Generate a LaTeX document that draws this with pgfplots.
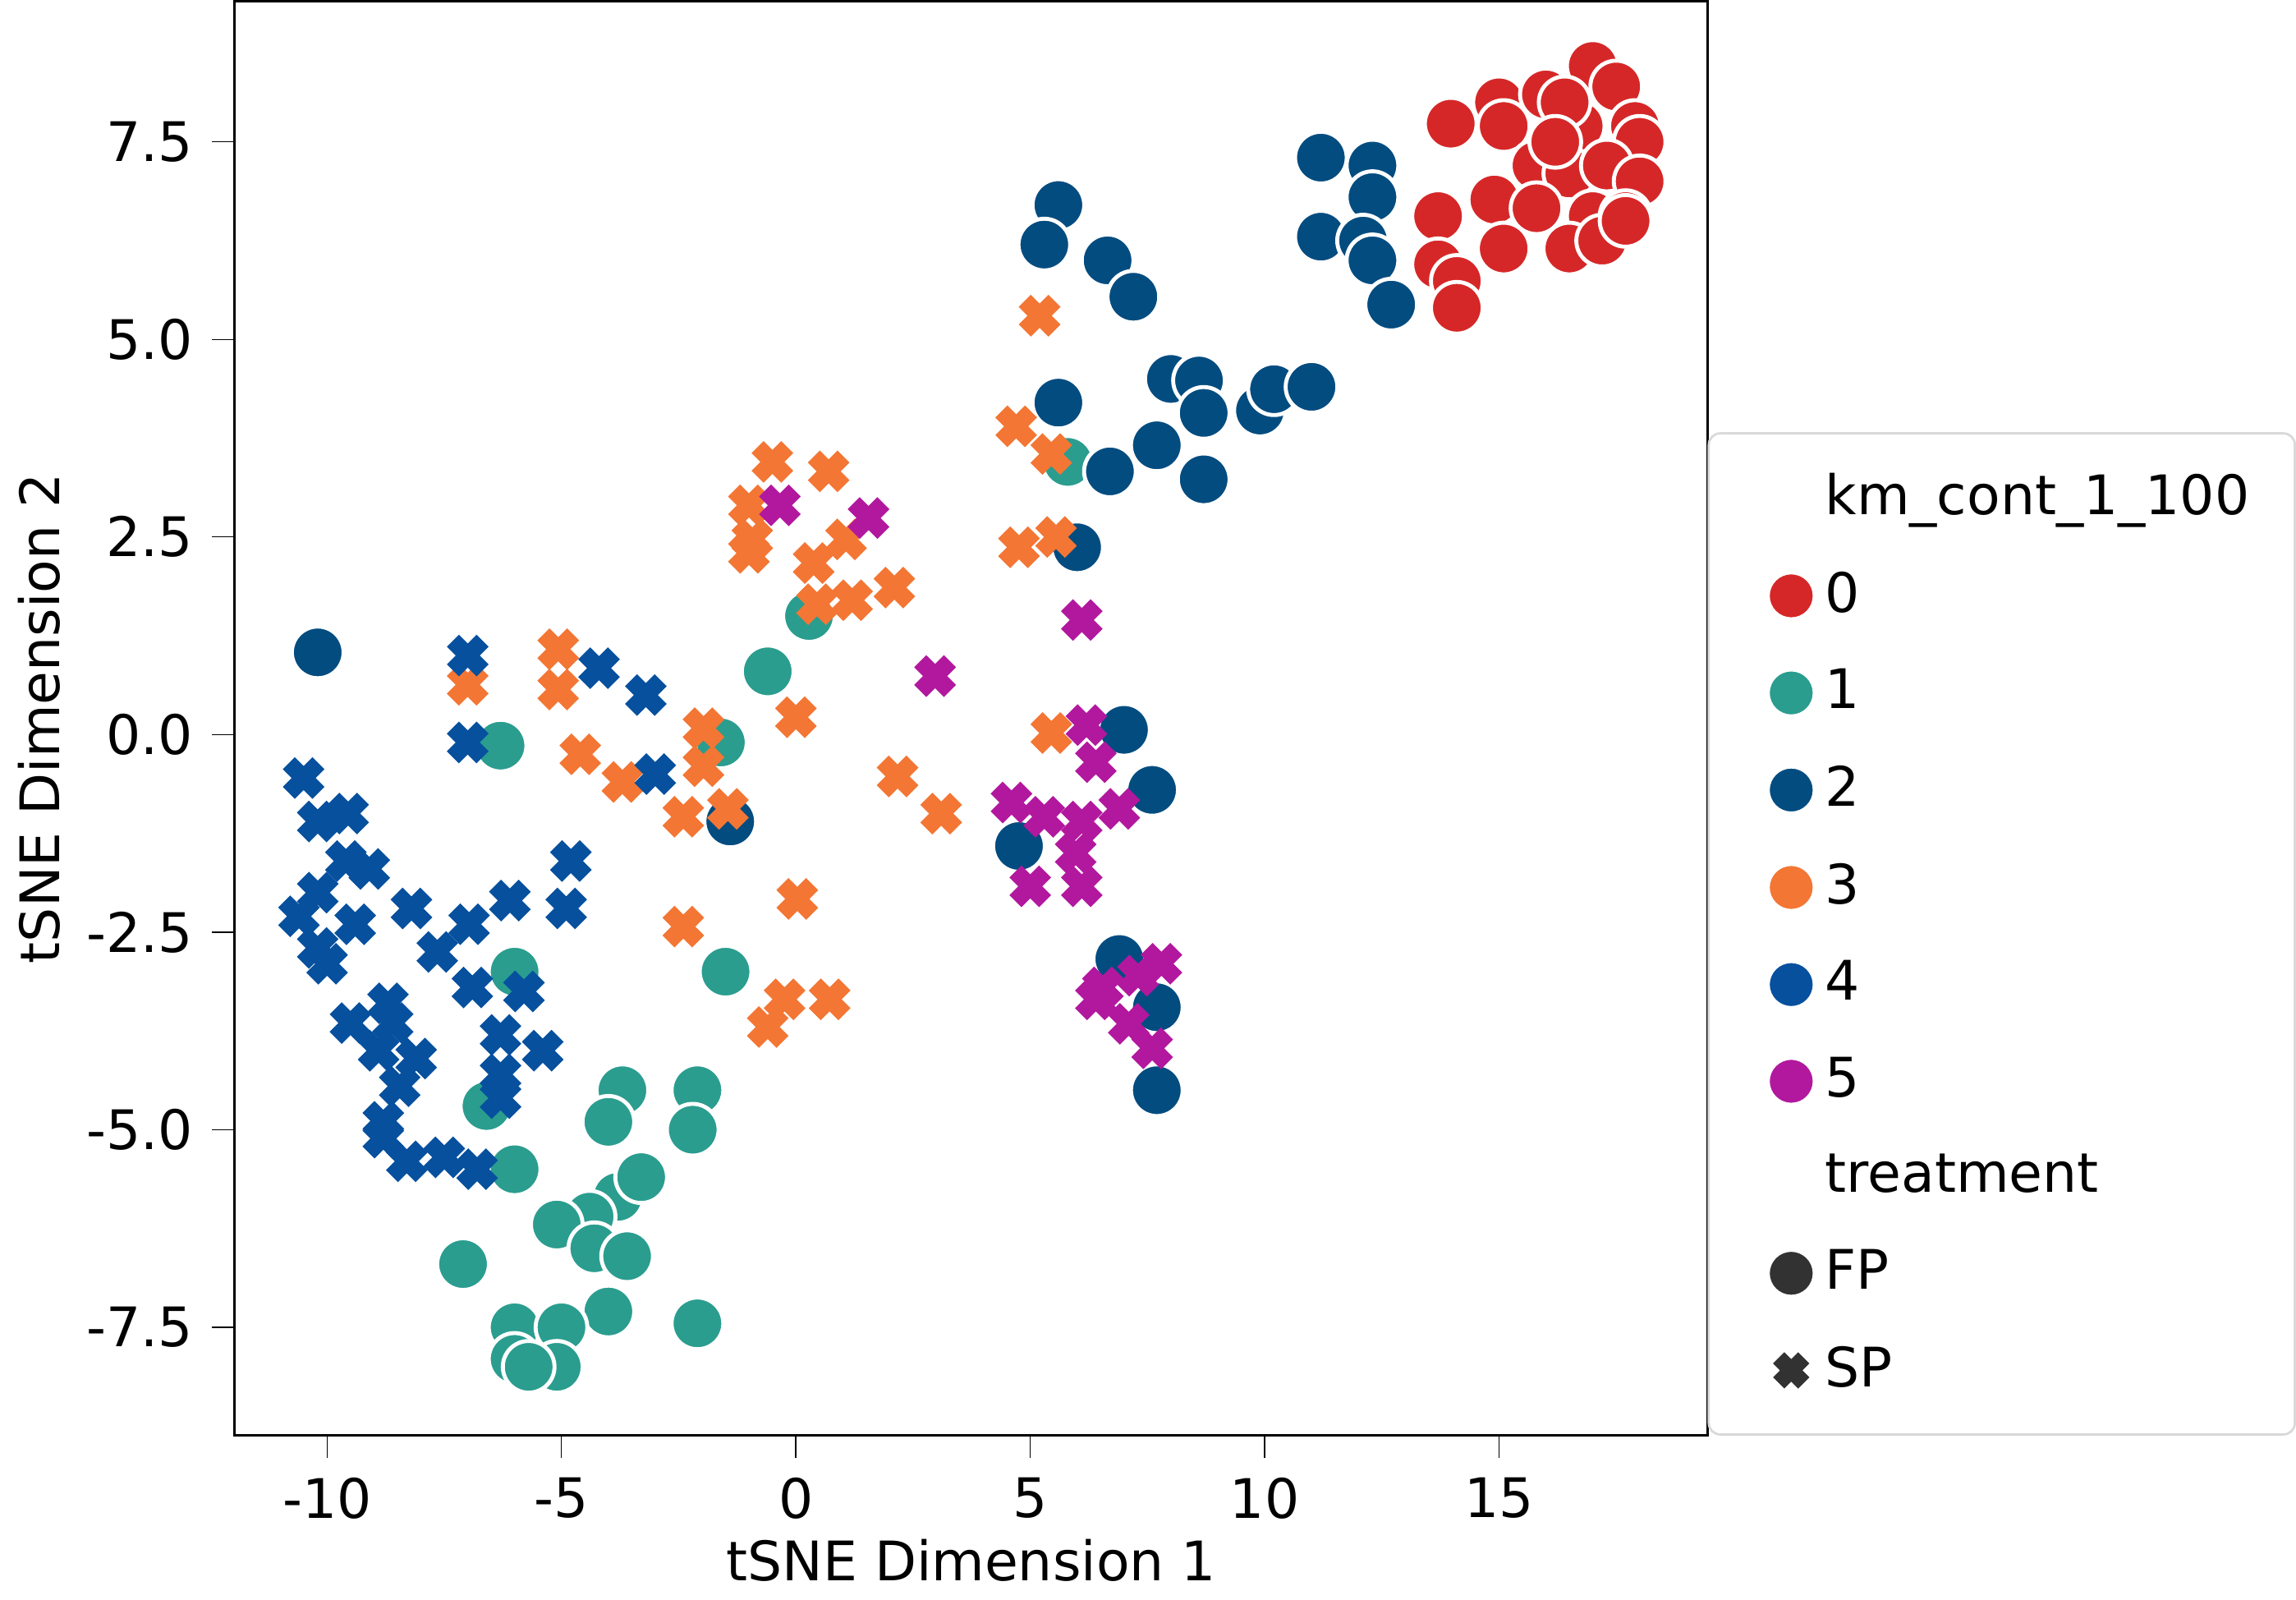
\documentclass[border=0pt]{standalone}
\usepackage{pgfplots}
\pgfplotsset{compat=1.18}
\usepackage{fontspec}
\setmainfont{DejaVu Sans}
\definecolor{c0}{RGB}{214,39,40}
\definecolor{c1}{RGB}{42,157,143}
\definecolor{c2}{RGB}{3,76,128}
\definecolor{c3}{RGB}{243,118,52}
\definecolor{c4}{RGB}{6,80,158}
\definecolor{c5}{RGB}{178,24,158}
\definecolor{cg}{RGB}{50,50,50}
\begin{document}
\fontsize{9.6}{11.5}\selectfont
\begin{tikzpicture}
\begin{axis}[scale only axis, width=9.12cm, height=8.88cm,
 xmin=-11.97, xmax=19.45, ymin=-8.87, ymax=9.28,
 xtick={-10,-5,0,5,10,15}, ytick={-7.5,-5,-2.5,0,2.5,5,7.5},
 yticklabel style={/pgf/number format/fixed,/pgf/number format/fixed zerofill,/pgf/number format/precision=1},
 /pgf/number format/assume math mode=true,
 tick label style={font=\fontsize{9.6}{11.5}\selectfont},
 label style={font=\fontsize{9.6}{11.5}\selectfont},
 xlabel={tSNE Dimension 1}, ylabel={tSNE Dimension 2},
 xlabel style={yshift=3pt}, ylabel style={yshift=-2pt},
 tick style={black}, major tick length=4pt, tick align=outside, xtick pos=bottom, ytick pos=left,
 legend style={at={(1,0)}, anchor=south west, draw=black!15, rounded corners=2pt,
   font=\fontsize{9.6}{11.5}\selectfont, row sep=4.6pt, inner xsep=6pt, inner ysep=5pt},
 legend cell align=left,
 only marks,
 circ/.style={mark=*, mark size=0.16cm},
 crs/.style={mark=x, mark size=0.13cm, mark options={line width=3pt}},
]
\addplot[circ, forget plot, mark options={draw=white, fill=c0, line width=0.7pt}] coordinates {(13.97,7.73)(15.0,8.0)(16.0,8.1)(17.0,8.46)(17.5,8.2)(17.9,7.7)(15.1,7.7)(16.7,7.7)(18.0,7.5)(15.8,7.2)(16.5,7.1)(17.3,7.2)(18.0,7.0)(13.7,6.56)(14.9,6.77)(15.8,6.66)(17.0,6.56)(17.7,6.56)(16.5,6.15)(17.2,6.25)(15.1,6.15)(13.7,5.95)(14.1,5.74)(14.1,5.4)(17.7,6.5)(16.4,8.0)(16.2,7.5)};
\addplot[circ, forget plot, mark options={draw=white, fill=c1, line width=0.7pt}] coordinates {(5.8,3.45)(0.28,1.5)(-0.6,0.8)(-6.3,-0.14)(-1.6,-0.1)(-6.0,-3.0)(-1.5,-3.0)(-6.6,-4.7)(-6.0,-5.5)(-3.7,-4.5)(-4.0,-4.9)(-2.1,-4.5)(-2.2,-5.0)(-3.8,-5.85)(-3.3,-5.6)(-4.4,-6.1)(-5.1,-6.2)(-4.3,-6.5)(-3.6,-6.6)(-7.1,-6.7)(-4.0,-7.3)(-6.0,-7.5)(-5.0,-7.5)(-2.1,-7.45)(-6.0,-7.9)(-5.1,-8.0)(-5.7,-8.0)};
\addplot[circ, forget plot, mark options={draw=white, fill=c2, line width=0.7pt}] coordinates {(11.2,7.3)(12.3,7.2)(12.3,6.8)(11.2,6.3)(12.1,6.25)(12.3,6.0)(12.7,5.44)(5.6,6.7)(5.3,6.2)(6.65,6.0)(7.2,5.54)(8.0,4.5)(8.6,4.48)(8.7,4.07)(7.7,3.66)(8.7,3.23)(9.9,4.1)(10.2,4.37)(11.0,4.4)(5.6,4.2)(6.7,3.33)(6.0,2.37)(-10.2,1.04)(7.0,0.06)(7.6,-0.7)(4.76,-1.41)(6.9,-2.84)(7.7,-3.45)(7.7,-4.5)(-1.4,-1.1)};
\addplot[crs, c3, forget plot] coordinates {(5.2,5.3)(4.7,3.9)(5.45,3.55)(-0.5,3.45)(0.7,3.33)(-1.0,2.9)(-0.93,2.47)(-1.0,2.3)(1.07,2.47)(0.38,2.17)(0.45,1.65)(1.2,1.7)(2.1,1.86)(4.76,2.37)(5.55,2.5)(-7.0,0.63)(-5.07,1.08)(-5.07,0.57)(-4.6,-0.25)(-3.7,-0.6)(-1.97,0.08)(-1.97,-0.4)(-2.4,-1.04)(-1.45,-0.94)(0.0,0.22)(2.17,-0.53)(3.1,-1.0)(5.45,0.02)(0.03,-2.08)(-2.4,-2.43)(-0.24,-3.35)(0.72,-3.35)(-0.6,-3.7)};
\addplot[crs, c4, forget plot] coordinates {(-7.0,1.0)(-4.2,0.84)(-3.2,0.5)(-7.0,-0.1)(-3.0,-0.5)(-10.5,-0.55)(-10.2,-1.1)(-9.55,-1.0)(-9.6,-1.6)(-9.1,-1.7)(-10.2,-2.0)(-4.8,-1.6)(-4.9,-2.2)(-6.1,-2.1)(-6.97,-2.4)(-8.2,-2.2)(-9.4,-2.4)(-10.6,-2.3)(-10.2,-2.7)(-7.65,-2.75)(-10.0,-2.9)(-6.9,-3.2)(-5.8,-3.25)(-8.7,-3.4)(-9.5,-3.65)(-8.6,-3.65)(-6.3,-3.8)(-5.4,-4.0)(-8.9,-4.0)(-8.1,-4.1)(-6.3,-4.3)(-8.45,-4.45)(-6.3,-4.6)(-8.8,-4.9)(-8.8,-5.1)(-8.3,-5.4)(-7.5,-5.35)(-6.8,-5.5)};
\addplot[crs, c5, forget plot] coordinates {(1.55,2.74)(-0.34,2.9)(6.1,1.45)(2.97,0.74)(6.2,0.12)(6.4,-0.35)(4.6,-0.86)(5.3,-1.04)(6.9,-0.94)(6.1,-1.1)(5.97,-1.5)(5.0,-1.92)(6.1,-1.92)(6.55,-3.2)(7.3,-3.05)(7.8,-2.9)(7.1,-3.66)(7.6,-3.97)(6.4,-3.35)};
\addlegendimage{empty legend}\addlegendentry{km\_cont\_1\_100}
\addlegendimage{only marks, mark=*, mark size=0.14cm, mark options={draw=white, fill=c0}}\addlegendentry{0}
\addlegendimage{only marks, mark=*, mark size=0.14cm, mark options={draw=white, fill=c1}}\addlegendentry{1}
\addlegendimage{only marks, mark=*, mark size=0.14cm, mark options={draw=white, fill=c2}}\addlegendentry{2}
\addlegendimage{only marks, mark=*, mark size=0.14cm, mark options={draw=white, fill=c3}}\addlegendentry{3}
\addlegendimage{only marks, mark=*, mark size=0.14cm, mark options={draw=white, fill=c4}}\addlegendentry{4}
\addlegendimage{only marks, mark=*, mark size=0.14cm, mark options={draw=white, fill=c5}}\addlegendentry{5}
\addlegendimage{empty legend}\addlegendentry{treatment}
\addlegendimage{only marks, mark=*, mark size=0.14cm, mark options={draw=white, fill=cg}}\addlegendentry{FP}
\addlegendimage{only marks, mark=x, mark size=0.11cm, mark options={line width=2.8pt}, cg}\addlegendentry{SP}
\end{axis}
\end{tikzpicture}
\end{document}
